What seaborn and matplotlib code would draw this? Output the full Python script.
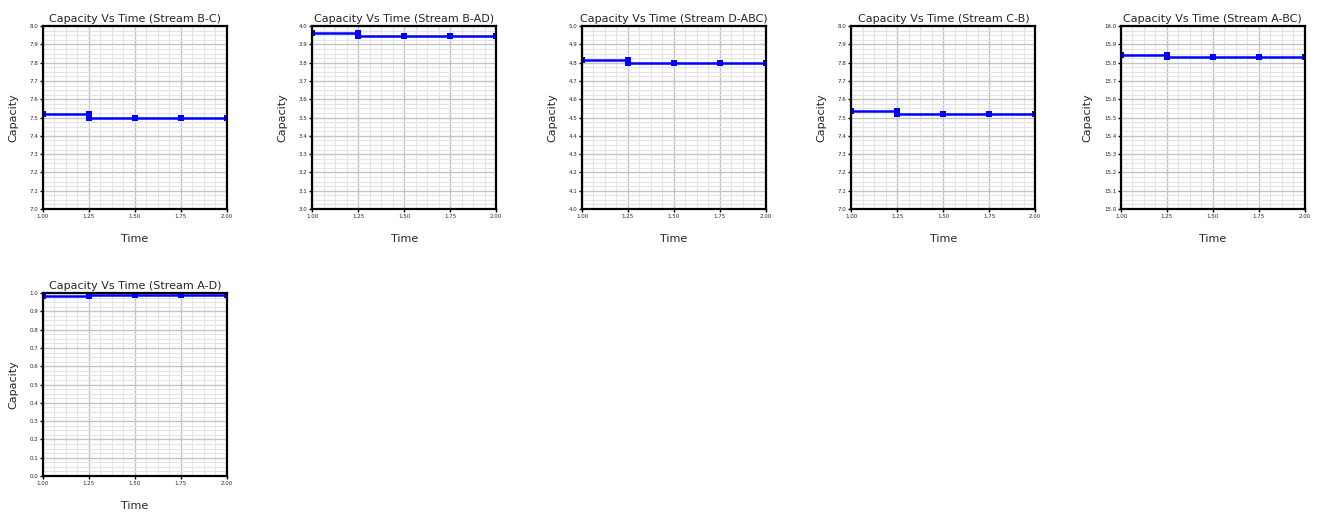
import matplotlib
matplotlib.use('Agg')
import matplotlib.pyplot as plt
import numpy as np
import pandas as pd
import seaborn as sns
from matplotlib.ticker import MultipleLocator, AutoMinorLocator

# time points (step at t=1.25 shown with two points)
time = [1.00, 1.25, 1.25, 1.50, 1.75, 2.00]
time_ticks = [1.00, 1.25, 1.50, 1.75, 2.00]

streams = ['B-C', 'B-AD', 'D-ABC', 'C-B', 'A-BC', 'A-D']
cap_bc = [7.52, 7.52, 7.50, 7.50, 7.50, 7.50]
cap_bad = [3.964, 3.964, 3.945, 3.945, 3.945, 3.945]
cap_dabc = [4.813, 4.813, 4.800, 4.800, 4.800, 4.800]
cap_cb = [7.538, 7.538, 7.522, 7.522, 7.522, 7.522]
cap_abc = [15.842, 15.842, 15.829, 15.829, 15.829, 15.829]
cap_ad = [0.982, 0.982, 0.991, 0.991, 0.991, 0.991]
y_low = [7.0, 3.0, 4.0, 7.0, 15.0, 0.0]

caps = [cap_bc, cap_bad, cap_dabc, cap_cb, cap_abc, cap_ad]

sns.set_style('white')
plt.rcParams['font.family'] = ['DejaVu Sans']

fig, axes = plt.subplots(2, 5, figsize=(13.3, 5.12), dpi=100)
plt.subplots_adjust(left=0.0323, right=0.981, top=0.949, bottom=0.0703,
                    wspace=0.467, hspace=0.459)
axes = axes.flatten()

for i, (name, cap) in enumerate(zip(streams, caps)):
    ax = axes[i]
    df = pd.DataFrame({'Time': time, 'Capacity': cap})
    sns.lineplot(data=df, x='Time', y='Capacity', ax=ax, sort=False,
                 estimator=None, color='#0000ff', linewidth=1.8,
                 marker='s', markersize=4.5, markeredgewidth=0)
    lo = y_low[i]
    ax.set_ylim(lo, lo + 1.0)
    ax.set_xlim(1.0, 2.0)
    ax.set_xticks(time_ticks)
    ax.yaxis.set_major_locator(MultipleLocator(0.1))
    ax.xaxis.set_minor_locator(AutoMinorLocator(4))
    ax.yaxis.set_minor_locator(AutoMinorLocator(4))
    ax.yaxis.set_major_formatter(matplotlib.ticker.FormatStrFormatter('%.1f'))
    ax.xaxis.set_major_formatter(matplotlib.ticker.FormatStrFormatter('%.2f'))
    ax.grid(which='major', color='#c4c4c4', linewidth=1.0)
    ax.grid(which='minor', color='#e4e4e4', linewidth=0.8)
    ax.set_axisbelow(True)
    for s in ax.spines.values():
        s.set_color('black')
        s.set_linewidth(1.6)
    ax.tick_params(axis='both', which='major', labelsize=4, length=2.5,
                   width=1, color='black', pad=1, left=True, bottom=True)
    ax.set_title('Capacity Vs Time (Stream %s)' % name, fontsize=8, pad=3)
    ax.set_xlabel('Time', fontsize=8, labelpad=11)
    ax.set_ylabel('Capacity', fontsize=8, labelpad=8)

for ax in axes[6:]:
    ax.remove()

plt.savefig('out.png', dpi=100)
